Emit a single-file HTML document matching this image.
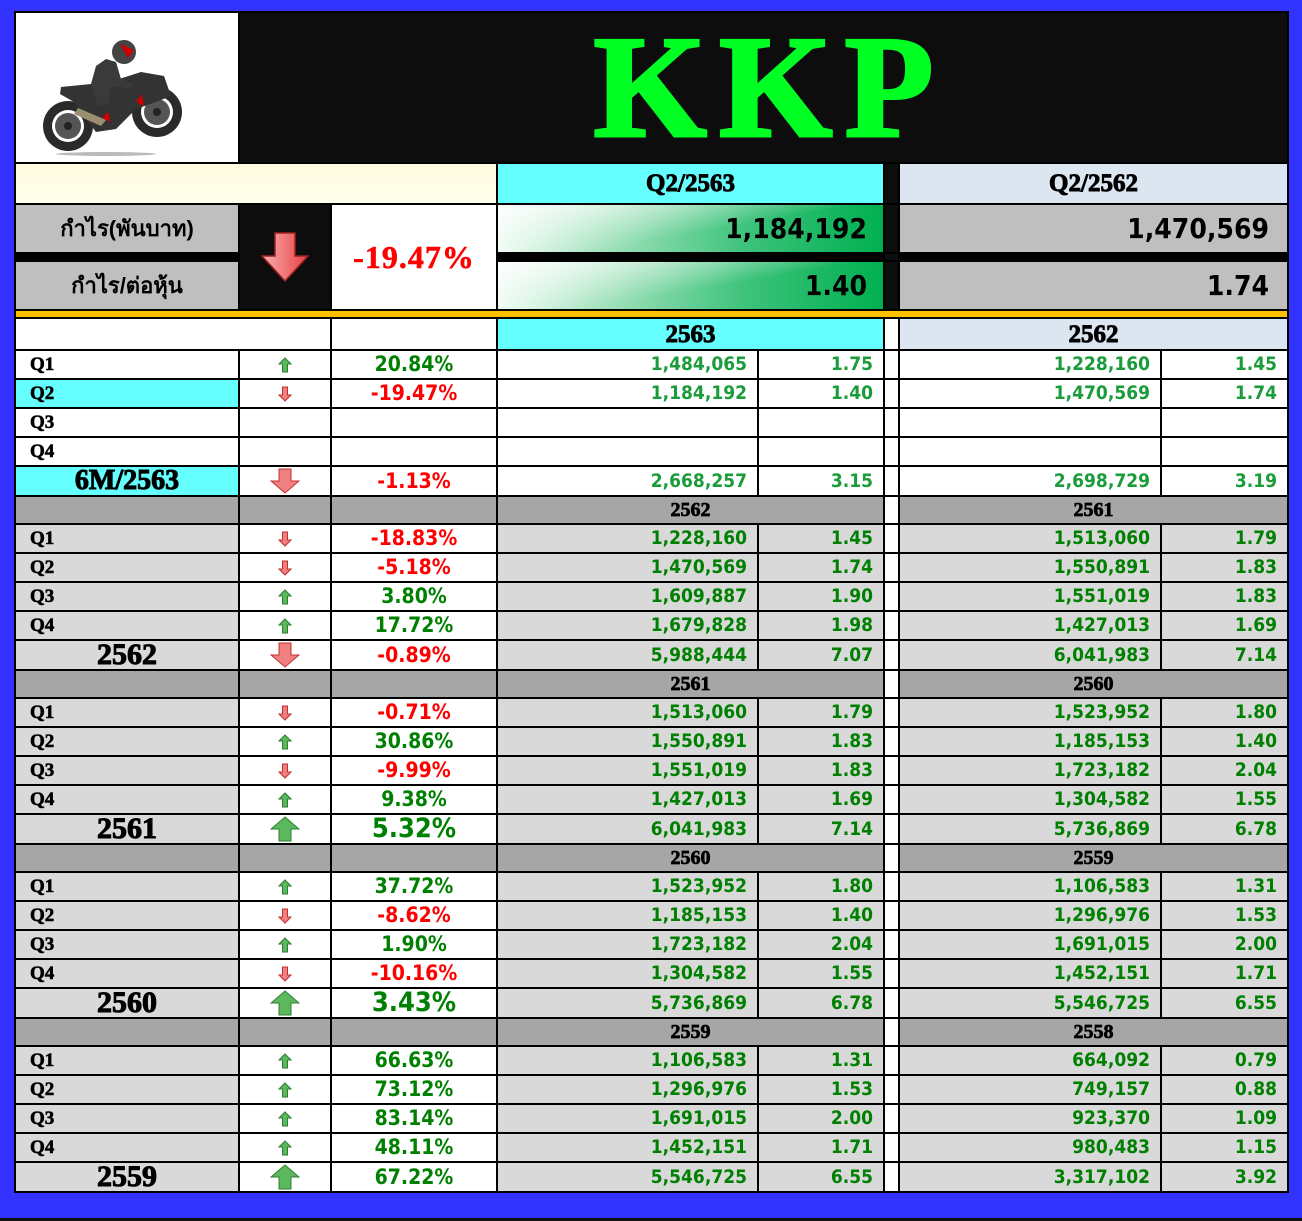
<!DOCTYPE html>
<html><head><meta charset="utf-8">
<style>
html,body{margin:0;padding:0;}
body{width:1302px;height:1221px;background:#3333ff;position:relative;overflow:hidden;}
#bot{position:absolute;left:0;top:1218px;width:1302px;height:3px;background:#111;}
table{position:absolute;left:14px;top:11px;border-collapse:collapse;table-layout:fixed;width:1273px;}
td{border:2px solid #000;padding:0;overflow:hidden;white-space:nowrap;line-height:1;}
.lab{font-family:"Liberation Serif",serif;font-weight:900;font-size:19px;padding-left:14px;color:#000;-webkit-text-stroke:0.6px #000;}
.yr{font-family:"Liberation Serif",serif;font-weight:900;font-size:30px;text-align:center;-webkit-text-stroke:1px #000;line-height:24px;}
.hd{font-family:"Liberation Serif",serif;font-weight:900;font-size:25px;text-align:center;-webkit-text-stroke:0.9px #000;}
.sh{font-family:"Liberation Serif",serif;font-weight:900;font-size:20px;text-align:center;-webkit-text-stroke:0.7px #000;}
.pc{font-family:"DejaVu Sans Condensed","DejaVu Sans",sans-serif;font-weight:bold;font-size:21px;text-align:center;}
.pcb{font-size:27px;line-height:24px;}
.n{font-family:"DejaVu Sans Condensed","DejaVu Sans",sans-serif;font-weight:bold;font-size:19px;text-align:right;padding-right:10px;color:#008000;}
.n1{color:#1a9c3a;}
.r{color:#ff0000;} .gr{color:#008000;}
.g{background:#d9d9d9;} .w{background:#fff;} .s{background:#a6a6a6;} .cy{background:#66ffff;} .lb{background:#dce6f1;} .k{background:#0d0d0d;}
.ar{text-align:center;line-height:0;}
.ar svg{vertical-align:middle;}
.th{font-family:"Liberation Sans","Noto Sans CJK SC",sans-serif;font-weight:bold;font-size:22px;text-align:center;background:#bfbfbf;}
.big{font-family:"DejaVu Sans Condensed","DejaVu Sans",sans-serif;font-weight:bold;font-size:28px;text-align:right;padding-right:16px;color:#000;}
.grn{background:linear-gradient(170deg,rgba(255,255,255,0.9) 0%,rgba(255,255,255,0) 55%),linear-gradient(90deg,#eafaf0 0%,#9be0b8 30%,#3cc27a 65%,#00b050 100%);}
</style></head><body>
<div id="bot"></div>
<table>
<colgroup><col style="width:224px"><col style="width:92px"><col style="width:166px"><col style="width:261px"><col style="width:126px"><col style="width:15px"><col style="width:262px"><col style="width:127px"></colgroup>
<tr style="height:151px"><td class="w">
<svg width="222" height="147" viewBox="0 0 222 147" style="display:block">
<ellipse cx="90" cy="140" rx="50" ry="2" fill="#bbb"/>
<circle cx="52" cy="112" r="25" fill="#2a2a2a"/><circle cx="52" cy="112" r="16" fill="#fff"/><circle cx="52" cy="112" r="13" fill="#555"/><circle cx="52" cy="112" r="4" fill="#222"/>
<circle cx="141" cy="98" r="25" fill="#2a2a2a"/><circle cx="141" cy="98" r="16" fill="#fff"/><circle cx="141" cy="98" r="13" fill="#555"/><circle cx="141" cy="98" r="4" fill="#222"/>
<path d="M45 73 L75 70 L100 66 L125 58 L148 62 L155 82 L140 88 L120 95 L100 115 L80 118 L70 105 L58 88 L44 80Z" fill="#333"/>
<path d="M58 100 L85 112 L90 106 L62 94Z" fill="#9a8f70"/>
<path d="M75 70 L80 52 L90 45 L100 48 L105 65 L118 70 L112 75 L95 72 L92 90 L82 92Z" fill="#3a3a3a"/>
<circle cx="108" cy="38" r="12" fill="#444"/><path d="M104 30 L118 36 L112 44Z" fill="#c00"/>
<path d="M120 88 L126 80 L128 92Z" fill="#c00"/><path d="M86 104 L92 98 L95 108Z" fill="#c00"/>
</svg></td>
<td colspan="7" class="k" style="text-align:center;vertical-align:middle"><div style="font-family:'Liberation Serif',serif;font-weight:900;font-size:146px;color:#00ff22;letter-spacing:12px;line-height:1;margin-left:12px;margin-top:-2px;-webkit-text-stroke:3px #00ff22">KKP</div></td></tr>
<tr style="height:41px"><td colspan="3" style="background:linear-gradient(180deg,#fffbe0,#fffde6 60%,#fffff0)"></td><td colspan="2" class="cy hd">Q2/2563</td><td class="k"></td><td colspan="2" class="lb hd">Q2/2562</td></tr>
<tr style="height:49px"><td class="th">กำไร(พันบาท)</td>
<td rowspan="3" class="k ar"><svg width="48" height="50" viewBox="0 0 48 50"><defs><linearGradient id="rd" x1="0" x2="1"><stop offset="0" stop-color="#f8b0b0"/><stop offset="1" stop-color="#e84040"/></linearGradient></defs><path d="M14 1 L34 1 L34 24 L47 24 L24 49 L1 24 L14 24Z" fill="url(#rd)" stroke="#a02020" stroke-width="1.5"/></svg></td>
<td rowspan="3" class="w" style="text-align:center;font-family:'Liberation Serif',serif;font-weight:900;font-size:32px;color:#ff0000;letter-spacing:1px;-webkit-text-stroke:0.5px #f00">-19.47%</td>
<td colspan="2" class="grn big">1,184,192</td><td class="k"></td><td colspan="2" class="big" style="background:#bfbfbf;padding-right:18px">1,470,569</td></tr>
<tr style="height:8px"><td style="background:#000"></td><td colspan="2" style="background:#000"></td><td class="k"></td><td colspan="2" style="background:#000"></td></tr>
<tr style="height:49px"><td class="th">กำไร/ต่อหุ้น</td><td colspan="2" class="grn big">1.40</td><td class="k"></td><td colspan="2" class="big" style="background:#bfbfbf;padding-right:18px">1.74</td></tr>
<tr style="height:8px"><td colspan="8" style="background:#ffc000"></td></tr>
<tr style="height:32px"><td colspan="2" class="w"></td><td class="w"></td><td colspan="2" class="cy hd">2563</td><td class="w"></td><td colspan="2" class="lb hd">2562</td></tr>

<tr style="height:29px"><td class="w lab">Q1</td><td class="w ar"><svg width="14" height="16"><path d="M7 1 L13 7 L9.5 7 L9.5 15 L4.5 15 L4.5 7 L1 7Z" fill="#5cb85c" stroke="#2e7d32"/></svg></td><td class="w pc gr">20.84%</td><td class="w n n1">1,484,065</td><td class="w n n1">1.75</td><td class="w"></td><td class="w n n1">1,228,160</td><td class="w n n1">1.45</td></tr>
<tr style="height:29px"><td class="cy lab">Q2</td><td class="w ar"><svg width="14" height="16"><path d="M4.5 1 L9.5 1 L9.5 9 L13 9 L7 15 L1 9 L4.5 9Z" fill="#f08080" stroke="#c03030"/></svg></td><td class="w pc r">-19.47%</td><td class="w n n1">1,184,192</td><td class="w n n1">1.40</td><td class="w"></td><td class="w n n1">1,470,569</td><td class="w n n1">1.74</td></tr>
<tr style="height:29px"><td class="w lab">Q3</td><td class="w"></td><td class="w"></td><td class="w"></td><td class="w"></td><td class="w"></td><td class="w"></td><td class="w"></td></tr>
<tr style="height:29px"><td class="w lab">Q4</td><td class="w"></td><td class="w"></td><td class="w"></td><td class="w"></td><td class="w"></td><td class="w"></td><td class="w"></td></tr>
<tr style="height:30px"><td class="cy yr" style="font-size:28px">6M/2563</td><td class="w ar"><svg width="30" height="26"><path d="M9 1 L21 1 L21 13 L29 13 L15 25 L1 13 L9 13Z" fill="#f08080" stroke="#c03030"/></svg></td><td class="w pc r">-1.13%</td><td class="w n n1">2,668,257</td><td class="w n n1">3.15</td><td class="w"></td><td class="w n n1">2,698,729</td><td class="w n n1">3.19</td></tr>

<tr style="height:28px"><td class="s"></td><td class="s"></td><td class="s"></td><td colspan="2" class="s sh">2562</td><td class="w"></td><td colspan="2" class="s sh">2561</td></tr>
<tr style="height:29px"><td class="g lab">Q1</td><td class="w ar"><svg width="14" height="16"><path d="M4.5 1 L9.5 1 L9.5 9 L13 9 L7 15 L1 9 L4.5 9Z" fill="#f08080" stroke="#c03030"/></svg></td><td class="w pc r">-18.83%</td><td class="g n">1,228,160</td><td class="g n">1.45</td><td class="w"></td><td class="g n">1,513,060</td><td class="g n">1.79</td></tr>
<tr style="height:29px"><td class="g lab">Q2</td><td class="w ar"><svg width="14" height="16"><path d="M4.5 1 L9.5 1 L9.5 9 L13 9 L7 15 L1 9 L4.5 9Z" fill="#f08080" stroke="#c03030"/></svg></td><td class="w pc r">-5.18%</td><td class="g n">1,470,569</td><td class="g n">1.74</td><td class="w"></td><td class="g n">1,550,891</td><td class="g n">1.83</td></tr>
<tr style="height:29px"><td class="g lab">Q3</td><td class="w ar"><svg width="14" height="16"><path d="M7 1 L13 7 L9.5 7 L9.5 15 L4.5 15 L4.5 7 L1 7Z" fill="#5cb85c" stroke="#2e7d32"/></svg></td><td class="w pc gr">3.80%</td><td class="g n">1,609,887</td><td class="g n">1.90</td><td class="w"></td><td class="g n">1,551,019</td><td class="g n">1.83</td></tr>
<tr style="height:29px"><td class="g lab">Q4</td><td class="w ar"><svg width="14" height="16"><path d="M7 1 L13 7 L9.5 7 L9.5 15 L4.5 15 L4.5 7 L1 7Z" fill="#5cb85c" stroke="#2e7d32"/></svg></td><td class="w pc gr">17.72%</td><td class="g n">1,679,828</td><td class="g n">1.98</td><td class="w"></td><td class="g n">1,427,013</td><td class="g n">1.69</td></tr>
<tr style="height:30px"><td class="g yr">2562</td><td class="w ar"><svg width="30" height="26"><path d="M9 1 L21 1 L21 13 L29 13 L15 25 L1 13 L9 13Z" fill="#f08080" stroke="#c03030"/></svg></td><td class="w pc r">-0.89%</td><td class="g n">5,988,444</td><td class="g n">7.07</td><td class="w"></td><td class="g n">6,041,983</td><td class="g n">7.14</td></tr>

<tr style="height:28px"><td class="s"></td><td class="s"></td><td class="s"></td><td colspan="2" class="s sh">2561</td><td class="w"></td><td colspan="2" class="s sh">2560</td></tr>
<tr style="height:29px"><td class="g lab">Q1</td><td class="w ar"><svg width="14" height="16"><path d="M4.5 1 L9.5 1 L9.5 9 L13 9 L7 15 L1 9 L4.5 9Z" fill="#f08080" stroke="#c03030"/></svg></td><td class="w pc r">-0.71%</td><td class="g n">1,513,060</td><td class="g n">1.79</td><td class="w"></td><td class="g n">1,523,952</td><td class="g n">1.80</td></tr>
<tr style="height:29px"><td class="g lab">Q2</td><td class="w ar"><svg width="14" height="16"><path d="M7 1 L13 7 L9.5 7 L9.5 15 L4.5 15 L4.5 7 L1 7Z" fill="#5cb85c" stroke="#2e7d32"/></svg></td><td class="w pc gr">30.86%</td><td class="g n">1,550,891</td><td class="g n">1.83</td><td class="w"></td><td class="g n">1,185,153</td><td class="g n">1.40</td></tr>
<tr style="height:29px"><td class="g lab">Q3</td><td class="w ar"><svg width="14" height="16"><path d="M4.5 1 L9.5 1 L9.5 9 L13 9 L7 15 L1 9 L4.5 9Z" fill="#f08080" stroke="#c03030"/></svg></td><td class="w pc r">-9.99%</td><td class="g n">1,551,019</td><td class="g n">1.83</td><td class="w"></td><td class="g n">1,723,182</td><td class="g n">2.04</td></tr>
<tr style="height:29px"><td class="g lab">Q4</td><td class="w ar"><svg width="14" height="16"><path d="M7 1 L13 7 L9.5 7 L9.5 15 L4.5 15 L4.5 7 L1 7Z" fill="#5cb85c" stroke="#2e7d32"/></svg></td><td class="w pc gr">9.38%</td><td class="g n">1,427,013</td><td class="g n">1.69</td><td class="w"></td><td class="g n">1,304,582</td><td class="g n">1.55</td></tr>
<tr style="height:30px"><td class="g yr">2561</td><td class="w ar"><svg width="30" height="26"><path d="M15 1 L29 13 L21 13 L21 25 L9 25 L9 13 L1 13Z" fill="#5cb85c" stroke="#2e7d32"/></svg></td><td class="w pc pcb gr">5.32%</td><td class="g n">6,041,983</td><td class="g n">7.14</td><td class="w"></td><td class="g n">5,736,869</td><td class="g n">6.78</td></tr>

<tr style="height:28px"><td class="s"></td><td class="s"></td><td class="s"></td><td colspan="2" class="s sh">2560</td><td class="w"></td><td colspan="2" class="s sh">2559</td></tr>
<tr style="height:29px"><td class="g lab">Q1</td><td class="w ar"><svg width="14" height="16"><path d="M7 1 L13 7 L9.5 7 L9.5 15 L4.5 15 L4.5 7 L1 7Z" fill="#5cb85c" stroke="#2e7d32"/></svg></td><td class="w pc gr">37.72%</td><td class="g n">1,523,952</td><td class="g n">1.80</td><td class="w"></td><td class="g n">1,106,583</td><td class="g n">1.31</td></tr>
<tr style="height:29px"><td class="g lab">Q2</td><td class="w ar"><svg width="14" height="16"><path d="M4.5 1 L9.5 1 L9.5 9 L13 9 L7 15 L1 9 L4.5 9Z" fill="#f08080" stroke="#c03030"/></svg></td><td class="w pc r">-8.62%</td><td class="g n">1,185,153</td><td class="g n">1.40</td><td class="w"></td><td class="g n">1,296,976</td><td class="g n">1.53</td></tr>
<tr style="height:29px"><td class="g lab">Q3</td><td class="w ar"><svg width="14" height="16"><path d="M7 1 L13 7 L9.5 7 L9.5 15 L4.5 15 L4.5 7 L1 7Z" fill="#5cb85c" stroke="#2e7d32"/></svg></td><td class="w pc gr">1.90%</td><td class="g n">1,723,182</td><td class="g n">2.04</td><td class="w"></td><td class="g n">1,691,015</td><td class="g n">2.00</td></tr>
<tr style="height:29px"><td class="g lab">Q4</td><td class="w ar"><svg width="14" height="16"><path d="M4.5 1 L9.5 1 L9.5 9 L13 9 L7 15 L1 9 L4.5 9Z" fill="#f08080" stroke="#c03030"/></svg></td><td class="w pc r">-10.16%</td><td class="g n">1,304,582</td><td class="g n">1.55</td><td class="w"></td><td class="g n">1,452,151</td><td class="g n">1.71</td></tr>
<tr style="height:30px"><td class="g yr">2560</td><td class="w ar"><svg width="30" height="26"><path d="M15 1 L29 13 L21 13 L21 25 L9 25 L9 13 L1 13Z" fill="#5cb85c" stroke="#2e7d32"/></svg></td><td class="w pc pcb gr">3.43%</td><td class="g n">5,736,869</td><td class="g n">6.78</td><td class="w"></td><td class="g n">5,546,725</td><td class="g n">6.55</td></tr>

<tr style="height:28px"><td class="s"></td><td class="s"></td><td class="s"></td><td colspan="2" class="s sh">2559</td><td class="w"></td><td colspan="2" class="s sh">2558</td></tr>
<tr style="height:29px"><td class="g lab">Q1</td><td class="w ar"><svg width="14" height="16"><path d="M7 1 L13 7 L9.5 7 L9.5 15 L4.5 15 L4.5 7 L1 7Z" fill="#5cb85c" stroke="#2e7d32"/></svg></td><td class="w pc gr">66.63%</td><td class="g n">1,106,583</td><td class="g n">1.31</td><td class="w"></td><td class="g n">664,092</td><td class="g n">0.79</td></tr>
<tr style="height:29px"><td class="g lab">Q2</td><td class="w ar"><svg width="14" height="16"><path d="M7 1 L13 7 L9.5 7 L9.5 15 L4.5 15 L4.5 7 L1 7Z" fill="#5cb85c" stroke="#2e7d32"/></svg></td><td class="w pc gr">73.12%</td><td class="g n">1,296,976</td><td class="g n">1.53</td><td class="w"></td><td class="g n">749,157</td><td class="g n">0.88</td></tr>
<tr style="height:29px"><td class="g lab">Q3</td><td class="w ar"><svg width="14" height="16"><path d="M7 1 L13 7 L9.5 7 L9.5 15 L4.5 15 L4.5 7 L1 7Z" fill="#5cb85c" stroke="#2e7d32"/></svg></td><td class="w pc gr">83.14%</td><td class="g n">1,691,015</td><td class="g n">2.00</td><td class="w"></td><td class="g n">923,370</td><td class="g n">1.09</td></tr>
<tr style="height:29px"><td class="g lab">Q4</td><td class="w ar"><svg width="14" height="16"><path d="M7 1 L13 7 L9.5 7 L9.5 15 L4.5 15 L4.5 7 L1 7Z" fill="#5cb85c" stroke="#2e7d32"/></svg></td><td class="w pc gr">48.11%</td><td class="g n">1,452,151</td><td class="g n">1.71</td><td class="w"></td><td class="g n">980,483</td><td class="g n">1.15</td></tr>
<tr style="height:30px"><td class="g yr">2559</td><td class="w ar"><svg width="30" height="26"><path d="M15 1 L29 13 L21 13 L21 25 L9 25 L9 13 L1 13Z" fill="#5cb85c" stroke="#2e7d32"/></svg></td><td class="w pc gr">67.22%</td><td class="g n">5,546,725</td><td class="g n">6.55</td><td class="w"></td><td class="g n">3,317,102</td><td class="g n">3.92</td></tr>
</table>
</body></html>
